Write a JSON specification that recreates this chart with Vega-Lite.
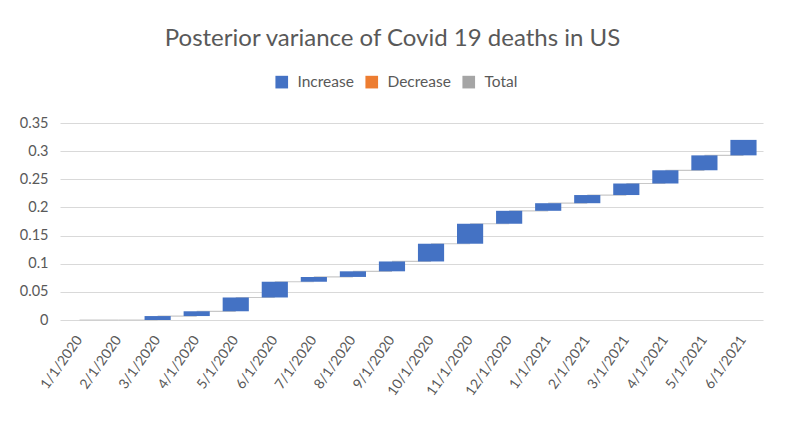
{
  "$schema": "https://vega.github.io/schema/vega-lite/v6.json",
  "width": 703,
  "height": 197,
  "autosize": {"type": "none"},
  "padding": {"left": 60, "top": 123, "right": 25, "bottom": 108},
  "background": "white",
  "title": {
    "text": "Posterior variance of Covid 19 deaths in US",
    "font": "Lato",
    "fontSize": 24,
    "fontWeight": "normal",
    "color": "#595959",
    "anchor": "middle",
    "dx": -19,
    "baseline": "alphabetic",
    "offset": 4
  },
  "config": {
    "view": {"stroke": null},
    "font": "Lato",
    "axisY": {
      "title": null,
      "values": [0, 0.05, 0.1, 0.15, 0.2, 0.25, 0.3, 0.35],
      "format": ".2~f",
      "labelOverlap": false,
      "grid": true,
      "gridColor": "#d9d9d9",
      "gridWidth": 1.2,
      "domain": false,
      "ticks": false,
      "labelPadding": 12,
      "labelFontSize": 14.5,
      "labelColor": "#595959"
    }
  },
  "data": {
    "values": [
      {"date": "1/1/2020", "next": "2/1/2020", "start": 0, "end": 0, "type": "Increase"},
      {"date": "2/1/2020", "next": "3/1/2020", "start": 0, "end": 0, "type": "Increase"},
      {"date": "3/1/2020", "next": "4/1/2020", "start": 0, "end": 0.007, "type": "Increase"},
      {"date": "4/1/2020", "next": "5/1/2020", "start": 0.007, "end": 0.0155, "type": "Increase"},
      {"date": "5/1/2020", "next": "6/1/2020", "start": 0.0155, "end": 0.040, "type": "Increase"},
      {"date": "6/1/2020", "next": "7/1/2020", "start": 0.040, "end": 0.068, "type": "Increase"},
      {"date": "7/1/2020", "next": "8/1/2020", "start": 0.068, "end": 0.0765, "type": "Increase"},
      {"date": "8/1/2020", "next": "9/1/2020", "start": 0.0765, "end": 0.0865, "type": "Increase"},
      {"date": "9/1/2020", "next": "10/1/2020", "start": 0.0865, "end": 0.104, "type": "Increase"},
      {"date": "10/1/2020", "next": "11/1/2020", "start": 0.104, "end": 0.1355, "type": "Increase"},
      {"date": "11/1/2020", "next": "12/1/2020", "start": 0.1355, "end": 0.171, "type": "Increase"},
      {"date": "12/1/2020", "next": "1/1/2021", "start": 0.171, "end": 0.194, "type": "Increase"},
      {"date": "1/1/2021", "next": "2/1/2021", "start": 0.194, "end": 0.2075, "type": "Increase"},
      {"date": "2/1/2021", "next": "3/1/2021", "start": 0.2075, "end": 0.222, "type": "Increase"},
      {"date": "3/1/2021", "next": "4/1/2021", "start": 0.222, "end": 0.2425, "type": "Increase"},
      {"date": "4/1/2021", "next": "5/1/2021", "start": 0.2425, "end": 0.266, "type": "Increase"},
      {"date": "5/1/2021", "next": "6/1/2021", "start": 0.266, "end": 0.2925, "type": "Increase"},
      {"date": "6/1/2021", "next": null, "start": 0.2925, "end": 0.32, "type": "Increase"}
    ]
  },
  "encoding": {
    "x": {
      "field": "date",
      "type": "ordinal",
      "sort": null,
      "scale": {"paddingInner": 0.33, "paddingOuter": 0.165},
      "axis": {
        "title": null,
        "labelAngle": -55,
        "labelAlign": "right",
        "labelBaseline": "middle",
        "labelFontSize": 14,
        "labelColor": "#595959",
        "labelPadding": 17,
        "labelOverlap": false,
        "domain": false,
        "ticks": false,
        "grid": false
      }
    }
  },
  "layer": [
    {
      "transform": [{"filter": "datum.next != null"}],
      "mark": {"type": "rule", "color": "#c8c8c8", "strokeWidth": 1.2},
      "encoding": {
        "x2": {"field": "next"},
        "y": {
          "field": "end",
          "type": "quantitative",
          "scale": {"domain": [0, 0.35], "nice": false}
        }
      }
    },
    {
      "mark": {"type": "bar"},
      "encoding": {
        "y": {"field": "start", "type": "quantitative"},
        "y2": {"field": "end"},
        "color": {
          "field": "type",
          "type": "nominal",
          "scale": {
            "domain": ["Increase", "Decrease", "Total"],
            "range": ["#4472C4", "#ED7D31", "#A5A5A5"]
          },
          "legend": {
            "title": null,
            "orient": "none",
            "legendX": 214,
            "legendY": -49,
            "direction": "horizontal",
            "symbolType": "square",
            "symbolSize": 160,
            "symbolStrokeWidth": 0,
            "symbolOpacity": 1,
            "labelFont": "Lato",
            "labelFontSize": 15.5,
            "labelColor": "#595959",
            "labelOffset": 8,
            "columnPadding": 10
          }
        }
      }
    }
  ]
}
